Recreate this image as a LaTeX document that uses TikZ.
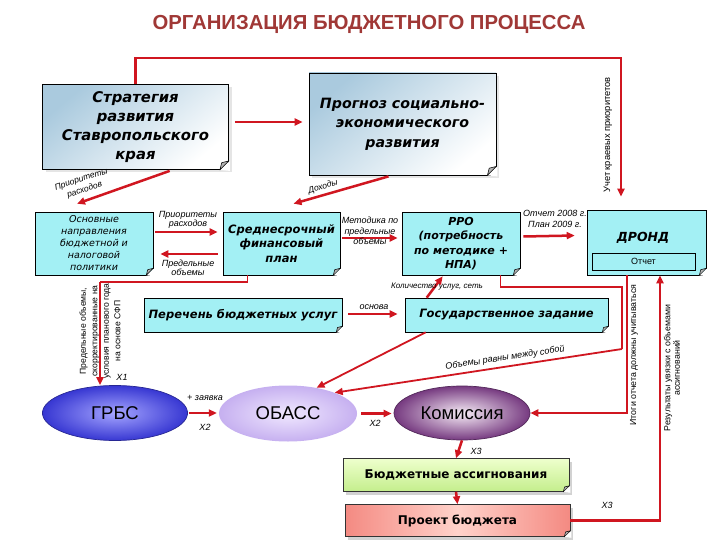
\documentclass[tikz,border=0pt]{standalone}
\usepackage{fontspec}
\setmainfont{Liberation Sans}
\newfontfamily\dvs{DejaVu Sans}[BoldFont={DejaVu Sans Bold},ItalicFont={DejaVu Sans Oblique},BoldItalicFont={DejaVu Sans Bold Oblique}]
\usetikzlibrary{arrows.meta,shapes.geometric,shadows,calc}
\definecolor{rd}{RGB}{208,22,32}
\definecolor{cy}{RGB}{163,240,244}
\definecolor{ttl}{RGB}{160,56,54}
\definecolor{stb}{RGB}{170,202,222}
\definecolor{grbsin}{RGB}{165,165,255}
\definecolor{grbsout}{RGB}{55,55,210}
\definecolor{obin}{RGB}{240,232,255}
\definecolor{obout}{RGB}{198,176,240}
\definecolor{komin}{RGB}{246,236,246}
\definecolor{komout}{RGB}{118,58,128}
\definecolor{bain}{RGB}{238,255,205}
\definecolor{baout}{RGB}{196,238,140}
\definecolor{pbin}{RGB}{255,210,202}
\definecolor{pbout}{RGB}{244,138,130}
\newcommand\foldc[2]{%
  \fill[white] ([xshift=-#2]#1.south east) -- ([xshift=1pt,yshift=-1pt]#1.south east) -- ([xshift=1pt,yshift=#2]#1.south east) -- cycle;
  \filldraw[fill=black!30, draw=black, line width=0.5pt, line join=round] ([xshift=-#2]#1.south east) -- ([yshift=#2]#1.south east) -- ([xshift=-0.8*#2,yshift=0.8*#2]#1.south east) -- cycle;}
\tikzset{
  arr/.style={draw=rd, line width=2.5pt, -{Triangle[length=8pt,width=7pt]}},
  arrm/.style={draw=rd, line width=1.8pt, -{Triangle[length=8pt,width=7pt]}},
  thinl/.style={draw=rd, line width=1.1pt},
  cbox/.style={draw=black, line width=0.6pt, fill=cy, align=center, inner sep=1pt},
  pbox/.style={draw=black, line width=0.8pt, top color=stb, bottom color=white, shading angle=40, align=center, drop shadow={opacity=0.2, shadow xshift=3pt, shadow yshift=-3pt}},
  lbl/.style={font=\itshape\fontsize{9}{10}\selectfont, align=center, inner sep=0pt},
  rlbl/.style={font=\fontsize{8.8}{10}\selectfont, align=center, inner sep=0pt, rotate=90},
  ell/.style={ellipse, shading=radial, inner sep=0pt, font=\fontsize{18.5}{20}\selectfont},
  sbox/.style={draw=black!80, line width=0.6pt, align=center, font=\dvs\bfseries\fontsize{12}{14}\selectfont, drop shadow={opacity=0.35, shadow xshift=3pt, shadow yshift=-3pt}},
}
\begin{document}
\begin{tikzpicture}[x=1pt,y=-1pt]
\fill[white] (0,0) rectangle (720,540);
\useasboundingbox (0,0) rectangle (720,540);

\node[font=\bfseries\fontsize{20.3}{22}\selectfont, text=ttl] (title) at (369,24) {ОРГАНИЗАЦИЯ БЮДЖЕТНОГО ПРОЦЕССА};

% top documents
\node[pbox, minimum width=186pt, minimum height=85pt, font=\dvs\bfseries\itshape\fontsize{14.8}{19.3}\selectfont] (strat) at (135.5,127) {Стратегия\\развития\\Ставропольского\\края};
\foldc{strat}{9pt}
\node[pbox, minimum width=187pt, minimum height=102pt, font=\dvs\bfseries\itshape\fontsize{14.2}{19.5}\selectfont] (prog) at (402.5,124) {Прогноз социально-\\экономического\\развития};
\foldc{prog}{9pt}

% row 2
\node[cbox, minimum width=118pt, minimum height=63pt, font=\dvs\itshape\fontsize{9.5}{12}\selectfont] (osn) at (94,243.5) {Основные\\направления\\бюджетной и\\налоговой\\политики};
\foldc{osn}{7pt}
\node[cbox, minimum width=117pt, minimum height=63pt, font=\dvs\bfseries\itshape\fontsize{11.5}{14.5}\selectfont] (sfp) at (281.5,243.5) {Среднесрочный\\финансовый\\план};
\foldc{sfp}{7pt}
\node[cbox, minimum width=118pt, minimum height=63pt, font=\dvs\bfseries\itshape\fontsize{11}{14.5}\selectfont] (rro) at (461,243.5) {РРО\\(потребность\\по методике +\\НПА)};
\foldc{rro}{7pt}
\node[cbox, minimum width=119pt, minimum height=65pt] (dr) at (646.5,242.5) {};
\foldc{dr}{7pt}
\node[font=\dvs\bfseries\itshape\fontsize{12.5}{14}\selectfont] (drt) at (643,238) {ДРОНД};
\node[cbox, minimum width=103pt, minimum height=17pt, font=\fontsize{9}{10}\selectfont] (otch) at (643.5,261.5) {Отчет};

% row 3
\node[cbox, minimum width=198pt, minimum height=34pt, font=\dvs\bfseries\itshape\fontsize{11.5}{13}\selectfont] (per) at (243,315) {Перечень бюджетных услуг};
\foldc{per}{6pt}
\node[cbox, minimum width=203pt, minimum height=34pt, font=\dvs\bfseries\itshape\fontsize{11.5}{13}\selectfont] (gz) at (506.5,315) {Государственное задание};
\foldc{gz}{6pt}

% ellipses
\node[ell, draw=grbsout!70!black, line width=0.7pt, inner color=grbsin, outer color=grbsout, minimum width=145pt, minimum height=55pt] (grbs) at (115,413) {ГРБС};
\node[ell, inner color=obin, outer color=obout, minimum width=138pt, minimum height=56pt] (obass) at (288,413.5) {ОБАСС};
\node[ell, draw=komout!70!black, line width=0.7pt, inner color=komin, outer color=komout, minimum width=136pt, minimum height=54pt] (kom) at (462,413) {Комиссия};

% bottom boxes
\node[sbox, top color=bain, bottom color=baout, minimum width=226pt, minimum height=33pt] (ba) at (456,475) {Бюджетные ассигнования};
\foldc{ba}{6pt}
\node[sbox, left color=pbout, right color=pbout, middle color=pbin, minimum width=225pt, minimum height=32pt] (pb) at (457.5,520.5) {Проект бюджета};
\foldc{pb}{6pt}

% rotated texts
\node[rlbl, font=\fontsize{8.6}{11.5}\selectfont] (lt) at (100,331) {Предельные объемы,\\скорректированные на\\условия планового года\\на основе СФП};
\node[rlbl, font=\fontsize{9.3}{10}\selectfont] (uch) at (608,135) {Учет краевых приоритетов};
\node[rlbl] (itg) at (634,355) {Итоги отчета должны учитываться};
\node[rlbl, font=\fontsize{8.8}{9.5}\selectfont] (rez) at (672,368) {Результаты увязки с объемами\\ассигнований};

% connectors top
\coordinate (tl) at (621,58);
\draw[arr, shorten >=13pt] (strat.north) |- (tl) -- (tl |- dr.north);
\draw[arr, shorten <=6pt, shorten >=6pt] ($(strat.east)+(0,-5)$) -- ($(prog.west)+(0,-2)$);
\draw[arr, shorten <=3pt] ($(strat.south)+(37,0)$) -- ($(osn.north)+(-17,-8)$);
\draw[arr] ($(prog.south)+(-14,1)$) -- ($(sfp.north)+(12,-8)$);
\node[lbl, rotate=18, font=\itshape\fontsize{8.5}{11}\selectfont] at (83,185) {Приоритеты\\расходов};
\node[lbl, rotate=16, font=\itshape\fontsize{8.5}{9}\selectfont] at (323,187) {Доходы};

% row 2 connectors
\draw[arr] ($(osn.east)+(2,-11.5)$) -- ($(sfp.west)+(-5,-11.5)$);
\draw[arr] ($(sfp.west)+(-5,10.5)$) -- ($(osn.east)+(7,10.5)$);
\draw[arr] ($(sfp.east)+(2,-5.5)$) -- ($(rro.west)+(-4,-5.5)$);
\draw[arr] ($(rro.east)+(3,-7)$) -- ($(dr.west)+(-12,-7)$);
\node[lbl, font=\itshape\fontsize{9}{9.5}\selectfont] at (188,220) {Приоритеты\\расходов};
\node[lbl, font=\itshape\fontsize{9}{9.5}\selectfont] at (188,268) {Предельные\\объемы};
\node[lbl, font=\itshape\fontsize{9}{10.5}\selectfont] at (370,231) {Методика по\\предельные\\объемы};
\node[lbl, font=\itshape\fontsize{9}{11}\selectfont] at (555,218.5) {Отчет 2008 г.\\План 2009 г.};

% to GRBS
\coordinate (k1) at (100,282);
\draw[thinl] ($(sfp.south west)+(25,0)$) |- (k1);
\draw[arr] (k1) -- (k1 |- grbs.north);

% row 3 connectors
\draw[arr] ($(per.east)+(6,-1)$) -- ($(gz.west)+(-7,-1)$);
\node[lbl] at (374,307) {основа};
\draw[arr] ($(gz.north west)+(22,0)$) -- ($(rro.south west)+(41,1)$);
\node[lbl, font=\itshape\fontsize{8}{9}\selectfont] at (437,287) {Количество услуг, сеть};
\draw[arrm] ($(gz.south west)+(21,0)$) -- (obass.42);

% volumes line
\coordinate (o1) at (622,287);
\coordinate (o2) at (622,349);
\draw[thinl] ($(rro.south east)+(-20,0)$) |- (o1) -- (o2);
\draw[arrm] (o2) -- (obass.24);
\node[lbl, rotate=8.5] at (505,358) {Объемы равны между собой};

% DROND connections
\draw[arr] ($(dr.south)+(-19.5,0)$) |- (kom.east);
\draw[arr] (pb.east) -| ($(dr.south)+(13.5,0)$);

% bottom flow
\draw[arr, shorten <=1pt, shorten >=2pt] (grbs.east) -- (grbs.east -| obass.west);
\draw[arr, shorten <=4pt, shorten >=2pt] (obass.east) -- (obass.east -| kom.west);
\draw[arr] (kom.south) -- (ba.north);
\draw[arr] (ba.south) -- (pb.north);
\node[lbl] at (205,398) {+ заявка};
\node[lbl] at (205,427) {Х2};
\node[lbl] at (375,423) {Х2};
\node[lbl] at (122,377) {Х1};
\node[lbl] at (476,451) {Х3};
\node[lbl] at (607,505) {Х3};
\end{tikzpicture}
\end{document}
